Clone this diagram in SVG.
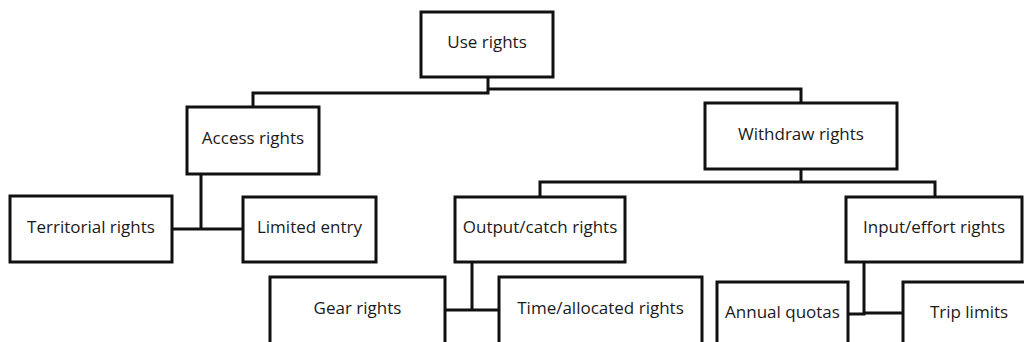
<svg xmlns="http://www.w3.org/2000/svg" width="1024" height="342" viewBox="0 0 1024 342">
  <style>
    .box { fill: #ffffff; stroke: #111111; stroke-width: 3; }
    .lbl { font-family: "Open Sans", "Liberation Sans", sans-serif; font-size: 17px; fill: #1a1a1a; text-anchor: middle; }
    .wire { fill: none; stroke: #111111; stroke-width: 3; stroke-linejoin: miter; }
  </style>
  <rect width="1024" height="342" fill="#ffffff"/>

  <!-- connectors -->
  <g id="connectors" class="wire">
    <!-- Use rights -> Access / Withdraw -->
    <polyline points="488,77 488,93 253,93 253,107"/>
    <polyline points="488,89 801,89 801,103"/>
    <!-- Access rights -> Territorial / Limited entry -->
    <polyline points="201,174 201,229"/>
    <polyline points="172,229 243,229"/>
    <!-- Withdraw rights -> Output/catch / Input/effort -->
    <polyline points="801,169 801,182"/>
    <polyline points="540,197 540,182 935,182 935,197"/>
    <!-- Output/catch rights -> Gear / Time/allocated -->
    <polyline points="472,262 472,310"/>
    <polyline points="445,310 499,310"/>
    <!-- Input/effort rights -> Annual quotas / Trip limits -->
    <polyline points="864,262 864,314 848,314"/>
    <polyline points="864,313 903,313"/>
  </g>

  <g id="use-rights">
    <rect class="box" x="421" y="12" width="132" height="65"/>
    <text class="lbl" x="487" y="48">Use rights</text>
  </g>
  <g id="access-rights">
    <rect class="box" x="187" y="107" width="132" height="67"/>
    <text class="lbl" x="253" y="144">Access rights</text>
  </g>
  <g id="withdraw-rights">
    <rect class="box" x="705" y="103" width="192" height="66"/>
    <text class="lbl" x="801" y="140">Withdraw rights</text>
  </g>
  <g id="territorial-rights">
    <rect class="box" x="10" y="196" width="162" height="66"/>
    <text class="lbl" x="91" y="233">Territorial rights</text>
  </g>
  <g id="limited-entry">
    <rect class="box" x="243" y="197" width="133" height="65"/>
    <text class="lbl" x="309.5" y="233">Limited entry</text>
  </g>
  <g id="output-catch-rights">
    <rect class="box" x="455" y="197" width="170" height="65"/>
    <text class="lbl" x="540" y="233">Output/catch rights</text>
  </g>
  <g id="input-effort-rights">
    <rect class="box" x="846" y="197" width="176" height="65"/>
    <text class="lbl" x="934" y="233">Input/effort rights</text>
  </g>
  <g id="gear-rights">
    <rect class="box" x="270" y="277" width="175" height="80"/>
    <text class="lbl" x="357.5" y="314">Gear rights</text>
  </g>
  <g id="time-allocated-rights">
    <rect class="box" x="499" y="277" width="203" height="80"/>
    <text class="lbl" x="600.5" y="314">Time/allocated rights</text>
  </g>
  <g id="annual-quotas">
    <rect class="box" x="717" y="282" width="131" height="80"/>
    <text class="lbl" x="782.5" y="318">Annual quotas</text>
  </g>
  <g id="trip-limits">
    <rect class="box" x="903" y="282" width="132" height="80"/>
    <text class="lbl" x="969" y="318">Trip limits</text>
  </g>
</svg>
